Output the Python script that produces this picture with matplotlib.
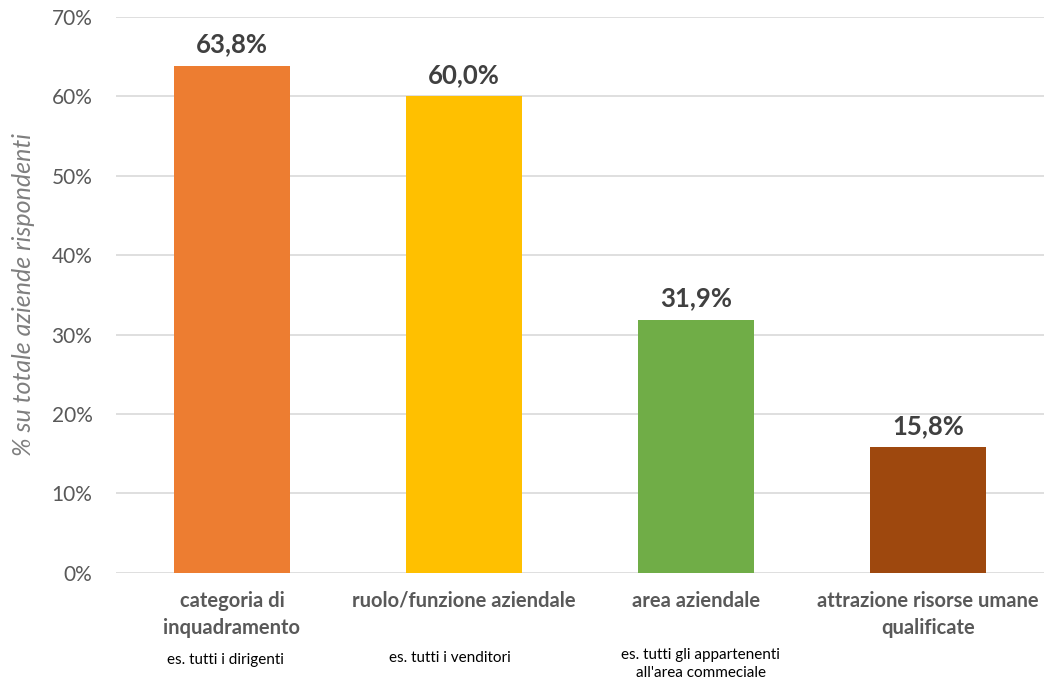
import matplotlib

matplotlib.use("Agg")
import matplotlib.pyplot as plt
import matplotlib.transforms as mtransforms

categories = [
    "categoria di\ninquadramento",
    "ruolo/funzione aziendale",
    "area aziendale",
    "attrazione risorse umane\nqualificate",
]
examples = [
    "es. tutti i dirigenti",
    "es. tutti i venditori",
    "es. tutti gli appartenenti\nall'area commeciale",
    "",
]
values = [63.8, 60.0, 31.9, 15.8]
value_labels = ["63,8%", "60,0%", "31,9%", "15,8%"]
bar_colors = ["#ED7D31", "#FFC000", "#70AD47", "#9E480E"]
y_ticks = [0, 10, 20, 30, 40, 50, 60, 70]

plt.rcParams["font.family"] = ["Lato", "DejaVu Sans"]

fig = plt.figure(figsize=(10.45, 6.82), dpi=100)
ax = fig.add_axes([0.111, 0.16, 0.888, 0.815])

x = list(range(len(values)))
ax.bar(x, values, width=0.5, color=bar_colors, zorder=2)

for xi, v, lab in zip(x, values, value_labels):
    ax.annotate(lab, (xi, v), xytext=(0, 7), textcoords="offset points",
                ha="center", va="bottom", fontsize=18.5, fontweight="bold",
                color="#404040")

ax.set_xlim(-0.5, len(values) - 0.5)
ax.set_ylim(0, 70)
ax.set_yticks(y_ticks)
ax.set_yticklabels([f"{t}%" for t in y_ticks], fontsize=15, color="#595959")
ax.yaxis.grid(True, color="#D9D9D9", linewidth=1.2, zorder=0)
ax.set_axisbelow(True)
ax.tick_params(axis="y", length=0, pad=17)

ax.set_xticks(x)
ax.set_xticklabels(categories, fontsize=14.5, fontweight="bold", color="#595959",
                   linespacing=1.45)
ax.tick_params(axis="x", length=0, pad=13)

for spine in ax.spines.values():
    spine.set_visible(False)

# example notes below each category label
trans = mtransforms.blended_transform_factory(ax.transData, ax.transAxes)
note_dx = [-0.03, -0.06, 0.02, 0]
note_y = [-0.145, -0.14, -0.136, 0]
for xi, note, dx, dy in zip(x, examples, note_dx, note_y):
    if note:
        ax.text(xi + dx, dy, note, transform=trans, ha="center", va="top",
                fontsize=11, color="#000000", linespacing=1.3)

ax.set_ylabel("% su totale aziende rispondenti", fontsize=18, style="italic",
              color="#7F7F7F", labelpad=12)

fig.savefig("out.png", dpi=100)
